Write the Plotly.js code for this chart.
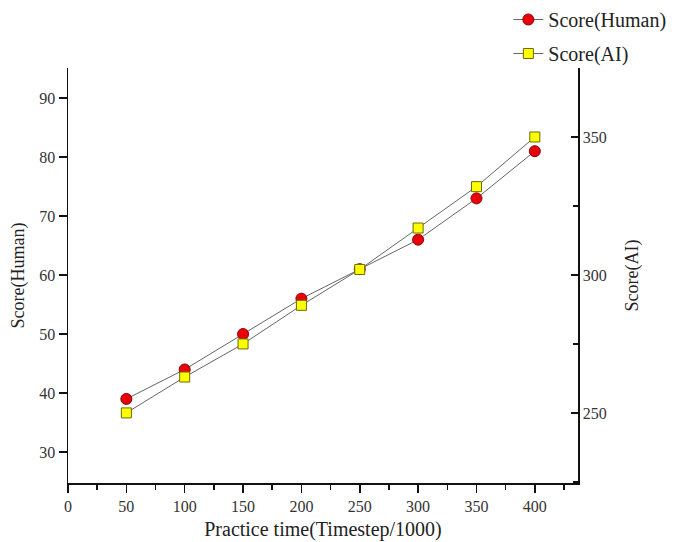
<!DOCTYPE html>
<html>
<head>
<meta charset="utf-8">
<script src="https://cdn.plot.ly/plotly-3.0.1.min.js"></script>
<style>html,body{margin:0;padding:0;background:#fff;}#chart{width:676px;height:542px;}</style>
</head>
<body>
<div id="chart"></div>
<script>
const practiceTime = [50, 100, 150, 200, 250, 300, 350, 400];
const scoreHuman = [39, 44, 50, 56, 61, 66, 73, 81];
const scoreAI = [250, 263, 275, 289, 302, 317, 332, 350];
const xTicks = [0, 50, 100, 150, 200, 250, 300, 350, 400];
const humanTicks = [30, 40, 50, 60, 70, 80, 90];
const aiTicks = [250, 300, 350];

const serif = '"Liberation Serif", "DejaVu Serif", serif';

const traces = [
  {
    x: practiceTime, y: scoreHuman, name: 'Score(Human)', type: 'scatter', mode: 'lines+markers',
    legendgroup: 'h',
    line: {color: '#666666', width: 1},
    marker: {symbol: 'circle', size: 11, color: '#e8000b', line: {color: '#8a0000', width: 1}},
    yaxis: 'y'
  },
  {
    x: practiceTime, y: scoreAI, name: 'Score(AI)', type: 'scatter', mode: 'lines+markers',
    legendgroup: 'a',
    line: {color: '#666666', width: 1},
    marker: {symbol: 'square', size: 10, color: '#ffff00', line: {color: '#6b6b00', width: 1}},
    yaxis: 'y2'
  }
];

const layout = {
  width: 676, height: 542,
  margin: {l: 68, r: 98, t: 68, b: 59, autoexpand: false},
  paper_bgcolor: '#ffffff', plot_bgcolor: '#ffffff',
  font: {family: serif, color: '#222'},
  showlegend: true,
  legend: {
    xref: 'container', yref: 'container', x: 0.752, y: 1.0, xanchor: 'left', yanchor: 'top',
    traceorder: 'grouped', tracegroupgap: 5,
    font: {family: serif, size: 20, color: '#222'}, bgcolor: 'rgba(0,0,0,0)'
  },
  xaxis: {
    range: [0, 437], tickmode: 'array', tickvals: xTicks, ticktext: xTicks.map(String),
    showline: true, linecolor: '#111', linewidth: 1.5, mirror: false,
    ticks: 'outside', ticklen: 8, tickwidth: 1.5, tickcolor: '#111',
    minor: {dtick: 25, tick0: 0, ticks: 'outside', ticklen: 5, tickwidth: 1.5, tickcolor: '#111'},
    showgrid: false, zeroline: false, automargin: false,
    tickfont: {family: serif, size: 16, color: '#333'},
    title: {text: 'Practice time(Timestep/1000)', font: {family: serif, size: 20, color: '#222'}, standoff: 8}
  },
  yaxis: {
    range: [24.75, 95.1], tickmode: 'array', tickvals: humanTicks, ticktext: humanTicks.map(String),
    showline: true, linecolor: '#111', linewidth: 1.5,
    ticks: 'outside', ticklen: 8, tickwidth: 1.5, tickcolor: '#111',
    showgrid: false, zeroline: false, automargin: false,
    tickfont: {family: serif, size: 16, color: '#333'},
    title: {text: 'Score(Human)', font: {family: serif, size: 18, color: '#222'}, standoff: 10}
  },
  yaxis2: {
    range: [224.6, 375], overlaying: 'y', side: 'right', anchor: 'x',
    tickmode: 'array', tickvals: aiTicks, ticktext: aiTicks.map(String),
    showline: true, linecolor: '#111', linewidth: 1.5,
    ticks: 'inside', ticklen: 7, tickwidth: 1.5, tickcolor: '#111',
    minor: {dtick: 25, tick0: 0, ticks: 'inside', ticklen: 5, tickwidth: 1.5, tickcolor: '#111'},
    showgrid: false, zeroline: false, automargin: false,
    tickfont: {family: serif, size: 16, color: '#333'}
  },
  annotations: [{
    text: 'Score(AI)', xref: 'paper', yref: 'paper', x: 1 + 54 / 510, y: 0.5,
    xanchor: 'center', yanchor: 'middle', textangle: -90, showarrow: false,
    font: {family: serif, size: 18, color: '#222'}
  }]
};

Plotly.newPlot('chart', traces, layout, {displayModeBar: false, staticPlot: true});
</script>
</body>
</html>
